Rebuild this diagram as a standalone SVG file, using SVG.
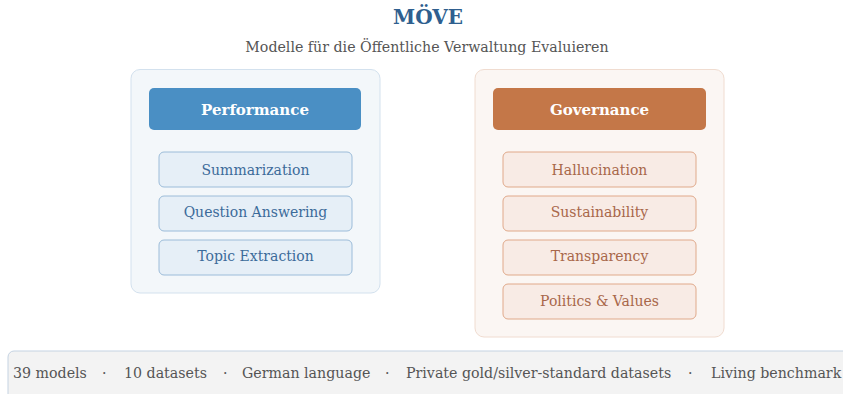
<svg xmlns="http://www.w3.org/2000/svg" width="843" height="394" viewBox="0 0 843 394">
<style>
text{font-family:"DejaVu Serif","Liberation Serif",serif;}
.title{font-size:20px;font-weight:bold;fill:#2f5f8f;text-anchor:middle;}
.sub{font-size:14.2px;fill:#555;text-anchor:middle;}
.pl{fill:#f3f7fa;stroke:#d3e1ee;stroke-width:1;}
.pr{fill:#fbf6f3;stroke:#f0dcd0;stroke-width:1;}
.hl{fill:#4a8fc4;}
.hr{fill:#c47748;}
.ht{font-size:15px;font-weight:bold;fill:#fff;text-anchor:middle;}
.il{fill:#e6eff7;stroke:#9cbcd9;stroke-width:1;}
.ir{fill:#f8ebe5;stroke:#e0a98a;stroke-width:1;}
.tl{font-size:14px;fill:#3c6b9a;text-anchor:middle;}
.tr{font-size:14px;fill:#a8674a;text-anchor:middle;}
.bar{fill:#f3f3f3;stroke:#c5d3e2;stroke-width:1;}
.bt{font-size:14.2px;fill:#555;}
</style>
<g id="header">
<text class="title" x="428" y="24">MÖVE</text>
<text class="sub" x="427" y="52">Modelle für die Öffentliche Verwaltung Evaluieren</text>
</g>
<g id="performance">
<rect class="pl" x="131" y="69.5" width="249" height="223.5" rx="9"/>
<rect class="hl" x="149" y="88" width="212" height="42" rx="5"/>
<text class="ht" x="255" y="114.5">Performance</text>
</g>
<g id="summarization"><rect class="il" x="159" y="152" width="193" height="35" rx="5"/><text class="tl" x="255.5" y="175">Summarization</text></g>
<g id="qa"><rect class="il" x="159" y="196" width="193" height="35" rx="5"/><text class="tl" x="255.5" y="217">Question Answering</text></g>
<g id="topic"><rect class="il" x="159" y="240" width="193" height="35" rx="5"/><text class="tl" x="255.5" y="261">Topic Extraction</text></g>
<g id="governance">
<rect class="pr" x="475" y="69.5" width="249" height="267.5" rx="9"/>
<rect class="hr" x="493" y="88" width="213" height="42" rx="5"/>
<text class="ht" x="599.5" y="114.5">Governance</text>
</g>
<g id="hallucination"><rect class="ir" x="503" y="152" width="193" height="35" rx="5"/><text class="tr" x="599.5" y="175">Hallucination</text></g>
<g id="sustainability"><rect class="ir" x="503" y="196" width="193" height="35" rx="5"/><text class="tr" x="599.5" y="217">Sustainability</text></g>
<g id="transparency"><rect class="ir" x="503" y="240" width="193" height="35" rx="5"/><text class="tr" x="599.5" y="261">Transparency</text></g>
<g id="politics"><rect class="ir" x="503" y="284" width="193" height="35" rx="5"/><text class="tr" x="599.5" y="306">Politics &amp; Values</text></g>
<g id="footer">
<rect class="bar" x="8" y="351" width="845" height="50" rx="6"/>
<text class="bt" x="13" y="378">39 models</text>
<text class="bt" x="102" y="378">·</text>
<text class="bt" x="124" y="378">10 datasets</text>
<text class="bt" x="223" y="378">·</text>
<text class="bt" x="242" y="378">German language</text>
<text class="bt" x="385" y="378">·</text>
<text class="bt" x="406" y="378">Private gold/silver-standard datasets</text>
<text class="bt" x="688" y="378">·</text>
<text class="bt" x="711" y="378">Living benchmark</text>
</g>
<g id="connectors"></g>
</svg>
